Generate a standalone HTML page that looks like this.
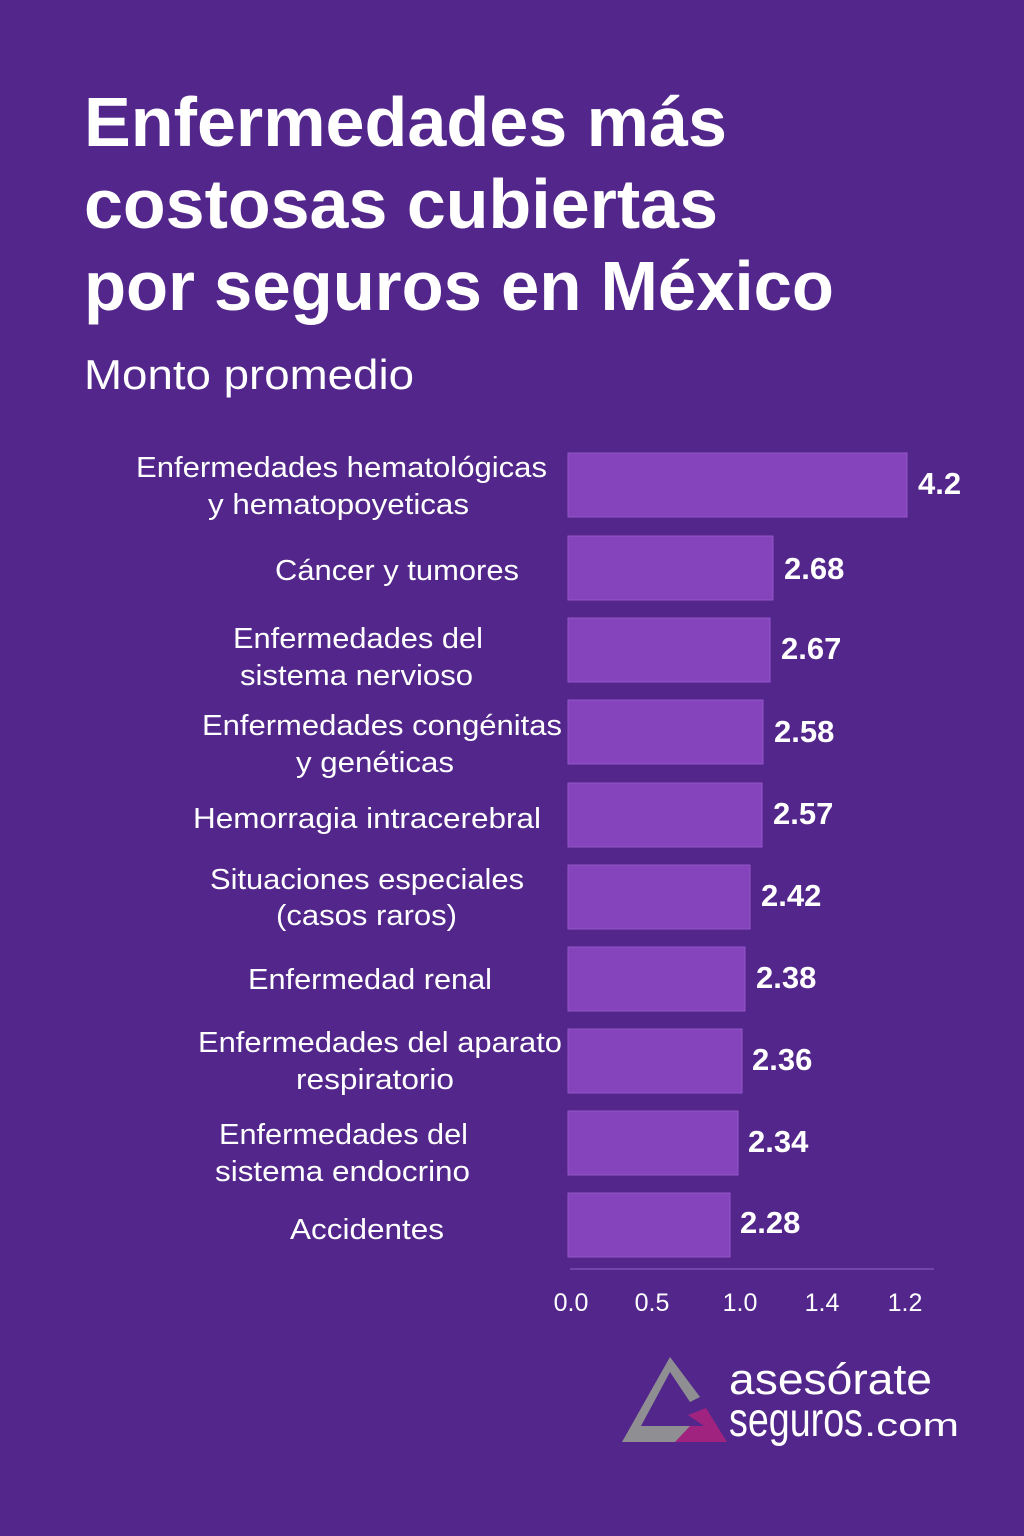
<!DOCTYPE html>
<html><head><meta charset="utf-8"><style>
html,body{margin:0;padding:0;background:#52268a;}
svg{display:block}
</style></head><body>
<svg width="1024" height="1536" viewBox="0 0 1024 1536" xmlns="http://www.w3.org/2000/svg" font-family="'Liberation Sans', 'DejaVu Sans', sans-serif">
<rect width="1024" height="1536" fill="#52268a"/>
<g fill="#fff" font-weight="bold" font-size="70">
<text x="84" y="146" textLength="643" lengthAdjust="spacingAndGlyphs">Enfermedades más</text>
<text x="84" y="228" textLength="634" lengthAdjust="spacingAndGlyphs">costosas cubiertas</text>
<text x="84" y="310" textLength="750" lengthAdjust="spacingAndGlyphs">por seguros en México</text>
</g>
<text x="84" y="389" fill="#fff" font-size="42" textLength="330" lengthAdjust="spacingAndGlyphs">Monto promedio</text>
<g fill="#8544bb" stroke="#9455c8" stroke-width="1">
<rect x="568" y="453" width="339" height="64"/>
<rect x="568" y="536" width="205" height="64"/>
<rect x="568" y="618" width="202" height="64"/>
<rect x="568" y="700" width="195" height="64"/>
<rect x="568" y="783" width="194" height="64"/>
<rect x="568" y="865" width="182" height="64"/>
<rect x="568" y="947" width="177" height="64"/>
<rect x="568" y="1029" width="174" height="64"/>
<rect x="568" y="1111" width="170" height="64"/>
<rect x="568" y="1193" width="162" height="64"/>
</g>
<g fill="#fff" font-size="31" font-weight="bold">
<text x="918" y="494">4.2</text>
<text x="784" y="579">2.68</text>
<text x="781" y="659">2.67</text>
<text x="774" y="742">2.58</text>
<text x="773" y="824">2.57</text>
<text x="761" y="906">2.42</text>
<text x="756" y="988">2.38</text>
<text x="752" y="1070">2.36</text>
<text x="748" y="1152">2.34</text>
<text x="740" y="1233">2.28</text>
</g>
<g fill="#fff" font-size="29" lengthAdjust="spacingAndGlyphs">
<text x="136" y="477" textLength="411" lengthAdjust="spacingAndGlyphs">Enfermedades hematológicas</text>
<text x="208" y="514" textLength="261" lengthAdjust="spacingAndGlyphs">y hematopoyeticas</text>
<text x="275" y="580" textLength="244" lengthAdjust="spacingAndGlyphs">Cáncer y tumores</text>
<text x="233" y="648" textLength="250" lengthAdjust="spacingAndGlyphs">Enfermedades del</text>
<text x="240" y="685" textLength="233" lengthAdjust="spacingAndGlyphs">sistema nervioso</text>
<text x="202" y="735" textLength="360" lengthAdjust="spacingAndGlyphs">Enfermedades congénitas</text>
<text x="296" y="772" textLength="158" lengthAdjust="spacingAndGlyphs">y genéticas</text>
<text x="193" y="828" textLength="348" lengthAdjust="spacingAndGlyphs">Hemorragia intracerebral</text>
<text x="210" y="889" textLength="314" lengthAdjust="spacingAndGlyphs">Situaciones especiales</text>
<text x="276" y="925" textLength="181" lengthAdjust="spacingAndGlyphs">(casos raros)</text>
<text x="248" y="989" textLength="244" lengthAdjust="spacingAndGlyphs">Enfermedad renal</text>
<text x="198" y="1052" textLength="364" lengthAdjust="spacingAndGlyphs">Enfermedades del aparato</text>
<text x="296" y="1089" textLength="158" lengthAdjust="spacingAndGlyphs">respiratorio</text>
<text x="219" y="1144" textLength="249" lengthAdjust="spacingAndGlyphs">Enfermedades del</text>
<text x="215" y="1181" textLength="255" lengthAdjust="spacingAndGlyphs">sistema endocrino</text>
<text x="290" y="1239" textLength="154" lengthAdjust="spacingAndGlyphs">Accidentes</text>
</g>
<line x1="570" y1="1269" x2="934" y2="1269" stroke="#7a52b0" stroke-width="1.5"/>
<g fill="#fff" font-size="25" text-anchor="middle">
<text x="571" y="1311">0.0</text>
<text x="652" y="1311">0.5</text>
<text x="740" y="1311">1.0</text>
<text x="822" y="1311">1.4</text>
<text x="905" y="1311">1.2</text>
</g>
<polygon points="622,1442 670,1357 700,1397 690,1402 670,1372 641,1426 700,1426 690,1442" fill="#8f8f93"/>
<polygon points="675,1442 690,1426 704,1426 688,1415 706,1408 727,1442" fill="#a0237f"/>
<text x="729" y="1394" fill="#fff" font-size="44" textLength="203" lengthAdjust="spacingAndGlyphs">asesórate</text>
<text x="729" y="1436" fill="#fff" font-size="48" textLength="134" lengthAdjust="spacingAndGlyphs">seguros</text>
<text x="864" y="1436" fill="#fff" font-size="32" textLength="95" lengthAdjust="spacingAndGlyphs">.com</text>
</svg>
</body></html>
